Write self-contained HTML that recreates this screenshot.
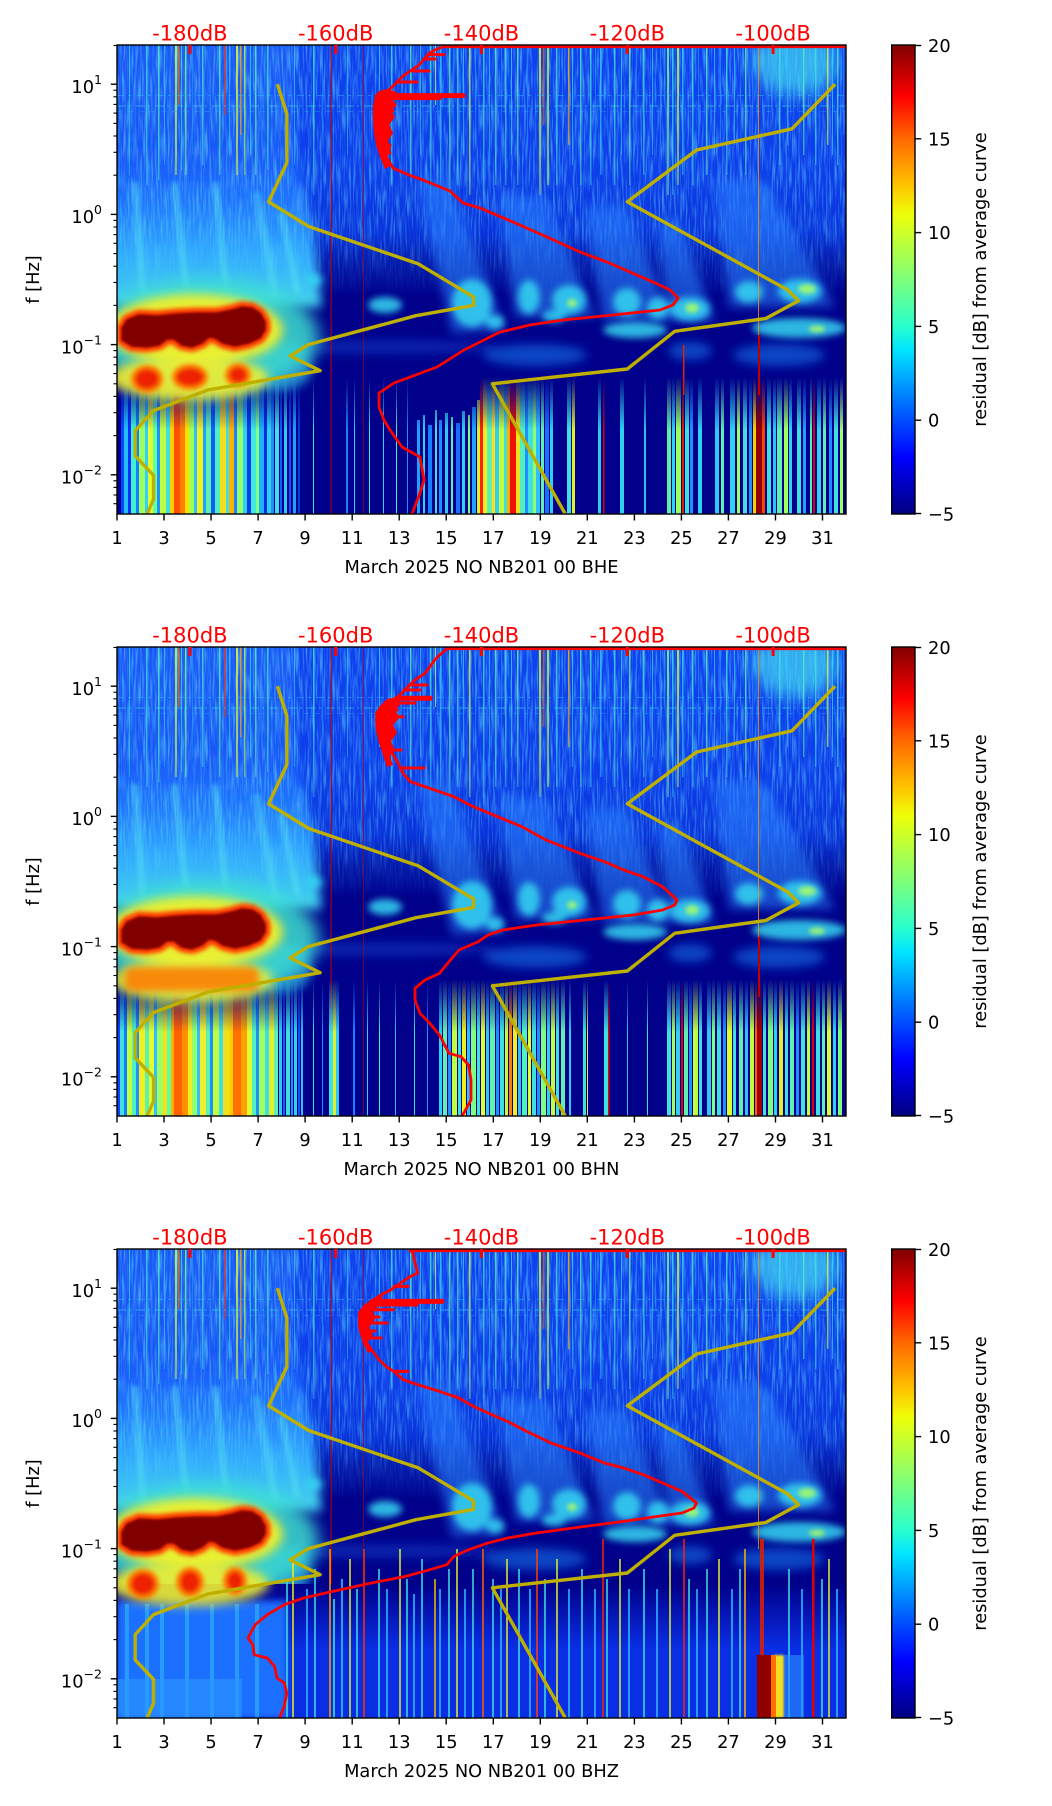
<!DOCTYPE html>
<html><head><meta charset="utf-8"><title>Spectrogram</title>
<style>
html,body{margin:0;padding:0;background:#fff;width:1052px;height:1806px;overflow:hidden}
svg{display:block}
text{font-family:"DejaVu Sans","Liberation Sans",sans-serif}
</style></head><body>
<svg xmlns="http://www.w3.org/2000/svg" xmlns:xlink="http://www.w3.org/1999/xlink" width="1052" height="1806" viewBox="0 0 1052 1806">
<defs>
<filter id="f1" x="-50%" y="-50%" width="200%" height="200%"><feGaussianBlur stdDeviation="1"/></filter>
<filter id="f2" x="-50%" y="-50%" width="200%" height="200%"><feGaussianBlur stdDeviation="2"/></filter>
<filter id="f3" x="-50%" y="-50%" width="200%" height="200%"><feGaussianBlur stdDeviation="3.5"/></filter>
<filter id="f5" x="-50%" y="-50%" width="200%" height="200%"><feGaussianBlur stdDeviation="5"/></filter>
<filter id="f8" x="-50%" y="-50%" width="200%" height="200%"><feGaussianBlur stdDeviation="8"/></filter>
<filter id="nz" x="0" y="0" width="100%" height="100%">
<feTurbulence type="fractalNoise" baseFrequency="0.55 0.035" numOctaves="2" seed="3"/>
<feColorMatrix type="matrix" values="0 0 0 0 0.15  0 0 0 0 0.78  0 0 0 0 1  2.6 0 0 0 -1.12"/>
</filter>

<linearGradient id="jet" x1="0" y1="0" x2="0" y2="1">
<stop offset="0" stop-color="#800000"/><stop offset="0.11" stop-color="#ff0000"/>
<stop offset="0.2" stop-color="#ff6800"/><stop offset="0.3" stop-color="#ffc400"/>
<stop offset="0.36" stop-color="#eeff08"/><stop offset="0.4" stop-color="#cdff29"/>
<stop offset="0.5" stop-color="#7dff7a"/><stop offset="0.6" stop-color="#29ffce"/>
<stop offset="0.65" stop-color="#00e5ff"/><stop offset="0.7" stop-color="#00b2ff"/>
<stop offset="0.8" stop-color="#004cff"/><stop offset="0.88" stop-color="#0000ff"/>
<stop offset="1" stop-color="#000080"/>
</linearGradient>
<linearGradient id="gUp" gradientUnits="userSpaceOnUse" x1="0" y1="0" x2="0" y2="252">
<stop offset="0" stop-color="#0f42ee"/><stop offset="0.5" stop-color="#0d3eea"/>
<stop offset="0.74" stop-color="#0934dc"/><stop offset="0.88" stop-color="#0418a8"/>
<stop offset="1" stop-color="#00008a"/>
</linearGradient>
<linearGradient id="gLeft" gradientUnits="userSpaceOnUse" x1="0" y1="90" x2="0" y2="262">
<stop offset="0" stop-color="#1650ff" stop-opacity="0"/>
<stop offset="0.3" stop-color="#1e70ff" stop-opacity=".85"/>
<stop offset="0.65" stop-color="#2ea4ff"/>
<stop offset="1" stop-color="#44d4ec"/>
</linearGradient>
<linearGradient id="gLow3" gradientUnits="userSpaceOnUse" x1="0" y1="335" x2="0" y2="400">
<stop offset="0" stop-color="#00008a"/><stop offset="1" stop-color="#0a2ee4"/>
</linearGradient>
<linearGradient id="gTopMask" gradientUnits="userSpaceOnUse" x1="0" y1="0" x2="0" y2="210">
<stop offset="0" stop-color="#fff"/><stop offset="0.55" stop-color="#aaa"/><stop offset="1" stop-color="#000"/>
</linearGradient>
<linearGradient id="gNzMask" gradientUnits="userSpaceOnUse" x1="0" y1="0" x2="0" y2="250">
<stop offset="0" stop-color="#fff"/><stop offset="0.7" stop-color="#ddd"/><stop offset="1" stop-color="#000"/>
</linearGradient>
<linearGradient id="gLowMask" gradientUnits="userSpaceOnUse" x1="0" y1="332" x2="0" y2="385">
<stop offset="0" stop-color="#000"/><stop offset="1" stop-color="#fff"/>
</linearGradient>
<mask id="mTop" maskUnits="userSpaceOnUse" x="0" y="0" width="729" height="469"><rect width="729" height="469" fill="url(#gTopMask)"/></mask>
<mask id="mNz" maskUnits="userSpaceOnUse" x="0" y="0" width="729" height="469"><rect width="729" height="469" fill="url(#gNzMask)"/></mask>
<mask id="mLow" maskUnits="userSpaceOnUse" x="0" y="0" width="729" height="469"><rect width="729" height="469" fill="url(#gLowMask)"/></mask>

<path id="blobP" d="M5,283 L10,275 L22,270 L40,271 L60,269 L80,268 L100,268 L115,265 L125,262 L135,263 L143,268 L148,277 L148,285 L143,293 L132,298 L118,301 L106,298 L98,293 L92,292 L85,298 L75,302 L65,300 L57,294 L50,294 L42,300 L30,302 L15,301 L5,295 Z"/>

<g id="topStripes" opacity=".85">
<rect x="12" width="1" height="130" fill="#30d0ff"/><rect x="18" width="1" height="110" fill="#2080ff"/>
<rect x="29" width="1.5" height="140" fill="#40e0e0"/><rect x="35" width="1" height="100" fill="#1a6cff"/>
<rect x="41" width="1.5" height="135" fill="#50f0c0"/><rect x="47" width="1" height="120" fill="#30c0ff"/>
<rect x="58" width="2" height="130" fill="#d0ff40"/><rect x="61" width="1.5" height="60" fill="#ff6000"/>
<rect x="64" width="1" height="125" fill="#40e0e0"/><rect x="68" width="1.5" height="130" fill="#80ff80"/>
<rect x="75" width="1" height="110" fill="#2090ff"/><rect x="85" width="1.5" height="120" fill="#40e0e0"/>
<rect x="92" width="1" height="90" fill="#1a6cff"/><rect x="102" width="1.5" height="130" fill="#50f0c0"/>
<rect x="107" width="1.5" height="70" fill="#ff3000"/><rect x="112" width="1" height="110" fill="#30c0ff"/>
<rect x="119" width="2" height="130" fill="#e0ff30"/><rect x="123" width="1.5" height="90" fill="#ffa000"/>
<rect x="127" width="1.5" height="130" fill="#b0ff50"/><rect x="133" width="1" height="110" fill="#30d0ff"/>
<rect x="138" width="1.5" height="130" fill="#60f0b0"/><rect x="144" width="1" height="100" fill="#2080ff"/>
<rect x="150" width="1.5" height="125" fill="#40e0e0"/><rect x="160" width="1" height="90" fill="#1a6cff"/>
<rect x="177" width="1" height="120" fill="#30c0ff"/><rect x="196" width="1.5" height="150" fill="#40e0e0"/>
<rect x="205" width="1" height="90" fill="#2080ff"/><rect x="230" width="1" height="110" fill="#30c0ff"/>
<rect x="262" width="1" height="100" fill="#30d0ff"/><rect x="274" width="1.5" height="140" fill="#40e0e0"/>
<rect x="284" width="1" height="90" fill="#2080ff"/><rect x="293" width="1.5" height="130" fill="#50f0c0"/>
<rect x="303" width="1" height="110" fill="#30c0ff"/><rect x="313" width="1.5" height="150" fill="#40e0e0"/>
<rect x="318" width="1" height="60" fill="#a0ff60"/><rect x="323" width="1.5" height="140" fill="#30d0ff"/>
<rect x="332" width="1.5" height="150" fill="#60f0b0"/><rect x="336" width="1" height="100" fill="#2080ff"/>
<rect x="340" width="1.5" height="140" fill="#40e0e0"/><rect x="346" width="1" height="110" fill="#30c0ff"/>
<rect x="352" width="1.5" height="150" fill="#d0ff40"/><rect x="358" width="1" height="100" fill="#2090ff"/>
<rect x="366" width="1.5" height="150" fill="#40e0e0"/><rect x="372" width="1" height="120" fill="#30c0ff"/>
<rect x="378" width="1.5" height="140" fill="#50f0c0"/><rect x="384" width="1" height="100" fill="#2080ff"/>
<rect x="388" width="1.5" height="140" fill="#40e0e0"/><rect x="394" width="1" height="110" fill="#30d0ff"/>
<rect x="400" width="1.5" height="140" fill="#60f0b0"/><rect x="410" width="1" height="100" fill="#2090ff"/>
<rect x="422" width="2" height="150" fill="#e0ff30"/><rect x="426" width="1.5" height="80" fill="#ff5000"/>
<rect x="430" width="2" height="140" fill="#c0ff40"/><rect x="439" width="1.5" height="140" fill="#40e0e0"/>
<rect x="445" width="1" height="100" fill="#2080ff"/><rect x="451" width="1.5" height="100" fill="#ffb000"/>
<rect x="455" width="1" height="120" fill="#30d0ff"/><rect x="463" width="1.5" height="140" fill="#50f0c0"/>
<rect x="473" width="1.5" height="140" fill="#40e0e0"/><rect x="478" width="1" height="100" fill="#2090ff"/>
<rect x="483" width="1.5" height="130" fill="#30d0ff"/><rect x="490" width="1" height="90" fill="#1a6cff"/>
<rect x="497" width="1.5" height="140" fill="#40e0e0"/><rect x="504" width="1" height="110" fill="#30c0ff"/>
<rect x="512" width="1.5" height="140" fill="#60f0b0"/><rect x="519" width="1" height="100" fill="#2080ff"/>
<rect x="526" width="1.5" height="130" fill="#40e0e0"/><rect x="535" width="1" height="110" fill="#30c0ff"/>
<rect x="543" width="1" height="100" fill="#2090ff"/><rect x="550" width="2" height="150" fill="#80ff80"/>
<rect x="555" width="1.5" height="150" fill="#40e0e0"/><rect x="560" width="2" height="140" fill="#d0ff40"/>
<rect x="565" width="1.5" height="130" fill="#30d0ff"/><rect x="575" width="1.5" height="140" fill="#40e0e0"/>
<rect x="581" width="1" height="100" fill="#2080ff"/><rect x="589" width="1.5" height="130" fill="#50f0c0"/>
<rect x="597" width="1" height="110" fill="#30c0ff"/><rect x="603" width="1" height="100" fill="#2090ff"/>
<rect x="609" width="1.5" height="130" fill="#40e0e0"/><rect x="617" width="1" height="100" fill="#30c0ff"/>
<rect x="628" width="1.5" height="130" fill="#60f0b0"/><rect x="635" width="1" height="90" fill="#2080ff"/>
<rect x="662" width="1.5" height="120" fill="#40e0e0"/><rect x="670" width="1" height="100" fill="#30c0ff"/>
<rect x="686" width="1.5" height="110" fill="#50f0c0"/><rect x="698" width="1.5" height="120" fill="#40e0e0"/>
<rect x="710" width="1.5" height="100" fill="#d0ff40"/><rect x="715" width="1" height="110" fill="#30d0ff"/>
<rect x="720" width="1.5" height="120" fill="#40e0e0"/><rect x="726" width="1" height="90" fill="#2080ff"/>
</g>

<g id="specCommon">
<rect width="729" height="469" fill="#00008a"/>
<rect width="729" height="252" fill="url(#gUp)"/>
<rect x="0" y="0" width="178" height="150" fill="#2a78ff" opacity=".45" filter="url(#f5)"/>
<path d="M-10,90 L178,90 L195,175 L205,262 L-10,262 Z" fill="url(#gLeft)" filter="url(#f5)"/>
<rect width="729" height="250" filter="url(#nz)" mask="url(#mNz)" opacity=".55"/>
<g stroke="#5ae6f0" stroke-width="7" opacity=".45" filter="url(#f2)" stroke-linecap="round">
<line x1="18" y1="140" x2="26" y2="250"/><line x1="58" y1="140" x2="70" y2="250"/>
<line x1="98" y1="140" x2="110" y2="250"/><line x1="140" y1="150" x2="158" y2="250"/>
<line x1="165" y1="170" x2="180" y2="245"/>
</g>
<ellipse cx="678" cy="18" rx="42" ry="32" fill="#40d0f0" opacity=".75" filter="url(#f8)"/>
<g mask="url(#mTop)"><use href="#topStripes" xlink:href="#topStripes"/></g>
<g stroke-width="1" fill="none">
<line x1="0" y1="50.5" x2="729" y2="50.5" stroke="#30c0ff" opacity=".45" stroke-dasharray="7 4 3 6"/>
<line x1="0" y1="61" x2="729" y2="61" stroke="#40e0e0" opacity=".55" stroke-dasharray="9 3 2 5"/>
<line x1="0" y1="66.5" x2="729" y2="66.5" stroke="#30b0ff" opacity=".35" stroke-dasharray="5 6"/>
</g>
<!-- fingers -->
<g fill="#2a84ff" opacity=".55" filter="url(#f5)">
<polygon points="300,135 332,135 388,285 335,288"/>
<polygon points="382,150 428,150 478,272 398,272"/>
<polygon points="468,160 508,160 555,276 486,276"/>
<polygon points="540,175 562,175 598,276 552,276"/>
<polygon points="598,135 648,135 718,262 612,262"/>
</g>
<g fill="#34d6f2" opacity=".85" filter="url(#f3)">
<ellipse cx="355" cy="258" rx="20" ry="24"/><ellipse cx="268" cy="260" rx="17" ry="8"/>
<ellipse cx="197" cy="235" rx="8" ry="6"/><ellipse cx="412" cy="252" rx="11" ry="17"/>
<ellipse cx="452" cy="255" rx="17" ry="15"/><ellipse cx="437" cy="271" rx="12" ry="6"/>
<ellipse cx="510" cy="257" rx="14" ry="14"/><ellipse cx="541" cy="263" rx="11" ry="11"/>
<ellipse cx="573" cy="264" rx="20" ry="12"/><ellipse cx="632" cy="247" rx="14" ry="11"/>
<ellipse cx="683" cy="246" rx="22" ry="12"/><ellipse cx="518" cy="285" rx="32" ry="8"/>
<ellipse cx="682" cy="283" rx="47" ry="10"/><ellipse cx="378" cy="277" rx="9" ry="7"/>
</g>
<g fill="#b0ff60" opacity=".8" filter="url(#f2)">
<ellipse cx="575" cy="263" rx="7" ry="5"/><ellipse cx="690" cy="244" rx="9" ry="5"/>
<ellipse cx="700" cy="284" rx="8" ry="3.5"/><ellipse cx="455" cy="258" rx="5" ry="4"/>
</g>
<g filter="url(#f5)">
<ellipse cx="418" cy="310" rx="52" ry="11" fill="#1a8cff" opacity=".5"/>
<ellipse cx="573" cy="306" rx="22" ry="9" fill="#1a8cff" opacity=".5"/>
<ellipse cx="662" cy="310" rx="46" ry="11" fill="#1a8cff" opacity=".5"/>
<ellipse cx="260" cy="302" rx="120" ry="7" fill="#1a60f0" opacity=".35"/>
<ellipse cx="165" cy="322" rx="30" ry="24" fill="#30c0f0" opacity=".6"/>
</g>
<!-- red blob complex -->
<ellipse cx="90" cy="292" rx="112" ry="58" fill="#3ee0d0" opacity=".85" filter="url(#f8)"/>
<ellipse cx="78" cy="285" rx="88" ry="36" fill="#e8f030" filter="url(#f5)"/>
<use href="#blobP" xlink:href="#blobP" fill="#ff2a00" stroke="#ff3a00" stroke-width="11" stroke-linejoin="round" filter="url(#f2)"/>
<use href="#blobP" xlink:href="#blobP" fill="#800000" stroke="#8a0000" stroke-width="1.5" filter="url(#f1)"/>
<!-- full height thin lines -->
<rect x="213.5" y="0" width="1.2" height="469" fill="#c00000" opacity=".85"/>
<rect x="246" y="0" width="1" height="469" fill="#b00000" opacity=".6"/>
<rect x="641" y="0" width="1" height="300" fill="#ff9000" opacity=".8"/>
</g>

<g id="nm" fill="none" stroke="#bfb000" stroke-width="3.4" stroke-linejoin="round">
<polyline points="160.4,39.2 169.9,69.2 169.9,117.6 151.6,156.8 191.7,181.5 301.4,218.9 356.5,251.9 356.5,260.4 298.9,270.7 191.3,299.6 173.1,310.9 203.1,325.7 91.1,344.9 36.5,365.6 18.2,385.6 18.2,410.9 36.5,430.3 36.5,454.2 30.2,469"/>
<polyline points="718.1,39.2 675.0,83.8 579.6,105.0 510.3,156.8 670.7,244.9 681.6,255.7 648.8,273.5 557.7,286.3 510.3,324.0 375.4,338.8 448.3,469"/>
</g>

<g id="axes">
<g stroke="#000" stroke-width="1.4">
<line x1="0" y1="469" x2="0" y2="475.5"/><line x1="47.03" y1="469" x2="47.03" y2="475.5"/>
<line x1="94.06" y1="469" x2="94.06" y2="475.5"/><line x1="141.1" y1="469" x2="141.1" y2="475.5"/>
<line x1="188.1" y1="469" x2="188.1" y2="475.5"/><line x1="235.2" y1="469" x2="235.2" y2="475.5"/>
<line x1="282.2" y1="469" x2="282.2" y2="475.5"/><line x1="329.2" y1="469" x2="329.2" y2="475.5"/>
<line x1="376.3" y1="469" x2="376.3" y2="475.5"/><line x1="423.3" y1="469" x2="423.3" y2="475.5"/>
<line x1="470.3" y1="469" x2="470.3" y2="475.5"/><line x1="517.4" y1="469" x2="517.4" y2="475.5"/>
<line x1="564.4" y1="469" x2="564.4" y2="475.5"/><line x1="611.4" y1="469" x2="611.4" y2="475.5"/>
<line x1="658.5" y1="469" x2="658.5" y2="475.5"/><line x1="705.5" y1="469" x2="705.5" y2="475.5"/>
<line x1="-6.2" y1="39.2" x2="0" y2="39.2"/><line x1="-6.2" y1="169.4" x2="0" y2="169.4"/>
<line x1="-6.2" y1="299.6" x2="0" y2="299.6"/><line x1="-6.2" y1="429.8" x2="0" y2="429.8"/>
</g>
<g stroke="#000" stroke-width="1.1">
<line x1="-3.6" y1="458.7" x2="0" y2="458.7"/><line x1="-3.6" y1="450" x2="0" y2="450"/>
<line x1="-3.6" y1="442.4" x2="0" y2="442.4"/><line x1="-3.6" y1="435.8" x2="0" y2="435.8"/>
<line x1="-3.6" y1="390.6" x2="0" y2="390.6"/><line x1="-3.6" y1="367.7" x2="0" y2="367.7"/>
<line x1="-3.6" y1="351.4" x2="0" y2="351.4"/><line x1="-3.6" y1="338.8" x2="0" y2="338.8"/>
<line x1="-3.6" y1="328.5" x2="0" y2="328.5"/><line x1="-3.6" y1="319.8" x2="0" y2="319.8"/>
<line x1="-3.6" y1="312.2" x2="0" y2="312.2"/><line x1="-3.6" y1="305.6" x2="0" y2="305.6"/>
<line x1="-3.6" y1="260.4" x2="0" y2="260.4"/><line x1="-3.6" y1="237.5" x2="0" y2="237.5"/>
<line x1="-3.6" y1="221.2" x2="0" y2="221.2"/><line x1="-3.6" y1="208.6" x2="0" y2="208.6"/>
<line x1="-3.6" y1="198.3" x2="0" y2="198.3"/><line x1="-3.6" y1="189.6" x2="0" y2="189.6"/>
<line x1="-3.6" y1="182" x2="0" y2="182"/><line x1="-3.6" y1="175.4" x2="0" y2="175.4"/>
<line x1="-3.6" y1="130.2" x2="0" y2="130.2"/><line x1="-3.6" y1="107.3" x2="0" y2="107.3"/>
<line x1="-3.6" y1="91" x2="0" y2="91"/><line x1="-3.6" y1="78.4" x2="0" y2="78.4"/>
<line x1="-3.6" y1="68.1" x2="0" y2="68.1"/><line x1="-3.6" y1="59.4" x2="0" y2="59.4"/>
<line x1="-3.6" y1="51.8" x2="0" y2="51.8"/><line x1="-3.6" y1="45.2" x2="0" y2="45.2"/>
<line x1="-3.6" y1="0.5" x2="0" y2="0.5"/>
</g>
<rect x="0" y="0" width="729" height="469" fill="none" stroke="#000" stroke-width="1.4"/>
<g font-size="17.8" fill="#000" text-anchor="middle">
<text x="0" y="499">1</text><text x="47.03" y="499">3</text><text x="94.06" y="499">5</text>
<text x="141.1" y="499">7</text><text x="188.1" y="499">9</text><text x="235.2" y="499">11</text>
<text x="282.2" y="499">13</text><text x="329.2" y="499">15</text><text x="376.3" y="499">17</text>
<text x="423.3" y="499">19</text><text x="470.3" y="499">21</text><text x="517.4" y="499">23</text>
<text x="564.4" y="499">25</text><text x="611.4" y="499">27</text><text x="658.5" y="499">29</text>
<text x="705.5" y="499">31</text>
</g>
<g font-size="17.8" fill="#000" text-anchor="end">
<text x="-15" y="47.9">10<tspan dy="-9" font-size="12.5">1</tspan></text>
<text x="-15" y="178.1">10<tspan dy="-9" font-size="12.5">0</tspan></text>
<text x="-15" y="308.3">10<tspan dy="-9" font-size="12.5">−1</tspan></text>
<text x="-15" y="438.5">10<tspan dy="-9" font-size="12.5">−2</tspan></text>
</g>
<text font-size="17.8" fill="#000" text-anchor="middle" transform="translate(-84,234.5) rotate(-90)" dy="6">f [Hz]</text>
<g fill="#ff0000">
<rect x="71.4" y="0" width="3" height="9"/><rect x="217.2" y="0" width="3" height="9"/>
<rect x="363" y="0" width="3" height="9"/><rect x="508.8" y="0" width="3" height="9"/>
<rect x="654.6" y="0" width="3" height="9"/>
</g>
<g font-size="21" fill="#ff0000" text-anchor="middle">
<text x="72.9" y="-4.3">-180dB</text><text x="218.7" y="-4.3">-160dB</text>
<text x="364.5" y="-4.3">-140dB</text><text x="510.3" y="-4.3">-120dB</text>
<text x="656.1" y="-4.3">-100dB</text>
</g>
<rect x="774.7" y="0" width="23.3" height="469" fill="url(#jet)" stroke="#000" stroke-width="1.4"/>
<g stroke="#000" stroke-width="1.4">
<line x1="798" y1="0.5" x2="804.2" y2="0.5"/><line x1="798" y1="93.8" x2="804.2" y2="93.8"/>
<line x1="798" y1="187.6" x2="804.2" y2="187.6"/><line x1="798" y1="281.4" x2="804.2" y2="281.4"/>
<line x1="798" y1="375.2" x2="804.2" y2="375.2"/><line x1="798" y1="468.5" x2="804.2" y2="468.5"/>
</g>
<g font-size="17.8" fill="#000">
<text x="811" y="6.9">20</text><text x="811" y="100.3">15</text><text x="811" y="194.1">10</text>
<text x="811" y="287.9">5</text><text x="811" y="381.7">0</text><text x="811" y="475.5">−5</text>
</g>
<text font-size="17.8" fill="#000" text-anchor="middle" transform="translate(863,234.5) rotate(-90)" dy="6">residual [dB] from average curve</text>
</g>
</defs>

<rect width="1052" height="1806" fill="#fff"/>

<!-- ================= PANEL 1 ================= -->
<svg x="117" y="45" width="729" height="469" viewBox="0 0 729 469" overflow="hidden">
<use href="#specCommon" xlink:href="#specCommon"/>
<g mask="url(#mLow)">
<rect x="5" y="340" width="145" height="129" fill="#60e0b0"/>
<g>
<rect x="0" y="330" width="4" height="139" fill="#000090"/><rect x="4" y="330" width="3" height="139" fill="#1040ff"/>
<rect x="7" y="330" width="4" height="139" fill="#20c0ff"/><rect x="11" y="330" width="3" height="139" fill="#0030ff"/>
<rect x="14" y="330" width="5" height="139" fill="#40f0d0"/><rect x="19" y="330" width="3" height="139" fill="#1080ff"/>
<rect x="22" y="330" width="6" height="139" fill="#a0ff60"/><rect x="28" y="330" width="3" height="139" fill="#30d0ff"/>
<rect x="31" y="330" width="5" height="139" fill="#e0ff30"/><rect x="36" y="330" width="4" height="139" fill="#60ffa0"/>
<rect x="40" y="330" width="3" height="139" fill="#2090ff"/><rect x="43" y="330" width="6" height="139" fill="#c0ff40"/>
<rect x="49" y="330" width="4" height="139" fill="#40e0e0"/><rect x="53" y="330" width="4" height="139" fill="#ffd000"/>
<rect x="57" y="330" width="6" height="139" fill="#ff5000"/><rect x="63" y="330" width="5" height="139" fill="#ff8000"/>
<rect x="68" y="330" width="4" height="139" fill="#ffe000"/><rect x="72" y="330" width="5" height="139" fill="#a0ff50"/>
<rect x="77" y="330" width="3" height="139" fill="#30c0ff"/><rect x="80" y="330" width="6" height="139" fill="#f0f020"/>
<rect x="86" y="330" width="3" height="139" fill="#20a0ff"/><rect x="89" y="330" width="5" height="139" fill="#60f0b0"/>
<rect x="94" y="330" width="4" height="139" fill="#1060ff"/><rect x="98" y="330" width="5" height="139" fill="#50f0c0"/>
<rect x="103" y="330" width="6" height="139" fill="#f0e020"/><rect x="109" y="330" width="3" height="139" fill="#40e0e0"/>
<rect x="112" y="330" width="5" height="139" fill="#ffb000"/><rect x="117" y="330" width="3" height="139" fill="#2080ff"/>
<rect x="120" y="330" width="6" height="139" fill="#90ff70"/><rect x="126" y="330" width="4" height="139" fill="#30d0f0"/>
<rect x="130" y="330" width="4" height="139" fill="#0040f0"/><rect x="134" y="330" width="5" height="139" fill="#40e8e0"/>
<rect x="139" y="330" width="3" height="139" fill="#80ff80"/><rect x="142" y="330" width="5" height="139" fill="#20b0ff"/>
<rect x="147" y="330" width="3" height="139" fill="#0030e0"/><rect x="150" y="330" width="4" height="139" fill="#30d0f0"/>
<rect x="154" y="330" width="3" height="139" fill="#2090ff"/><rect x="158" y="330" width="4" height="139" fill="#40e0e0"/>
<rect x="163" y="330" width="2" height="139" fill="#1060ff"/><rect x="167" y="330" width="3" height="139" fill="#30c8f0"/>
<rect x="172" y="330" width="2" height="139" fill="#1050ff"/><rect x="176" y="330" width="3" height="139" fill="#20a0ff"/>
<rect x="181" y="330" width="2" height="139" fill="#0040e0"/>
<rect x="196" y="330" width="1" height="139" fill="#40e0e0"/><rect x="229" y="330" width="2" height="139" fill="#2080ff"/>
<rect x="237" y="330" width="1" height="139" fill="#30d0ff"/><rect x="252" y="330" width="1" height="139" fill="#40f0d0"/>
<rect x="266" y="330" width="1" height="139" fill="#30d0ff"/><rect x="279" y="330" width="1" height="139" fill="#40f0d0"/>
<rect x="290" y="330" width="1" height="139" fill="#2090ff"/>
</g>
<g>
<rect x="300" y="375" width="3" height="94" fill="#20a0ff"/><rect x="306" y="370" width="2" height="99" fill="#30d0f0"/>
<rect x="311" y="380" width="4" height="89" fill="#1880ff"/><rect x="318" y="365" width="2" height="104" fill="#40e0e0"/>
<rect x="322" y="375" width="3" height="94" fill="#2090ff"/><rect x="328" y="368" width="3" height="101" fill="#30c8f0"/>
<rect x="334" y="372" width="2" height="97" fill="#60f0b0"/><rect x="339" y="378" width="4" height="91" fill="#1870ff"/>
<rect x="345" y="366" width="3" height="103" fill="#30d0f0"/><rect x="351" y="370" width="2" height="99" fill="#80ff80"/>
<rect x="355" y="362" width="4" height="107" fill="#20a0ff"/><rect x="360" y="355" width="3" height="114" fill="#e0f030"/>
</g>
<g>
<rect x="363" y="330" width="3" height="139" fill="#ff2000"/><rect x="366" y="330" width="4" height="139" fill="#f0f020"/>
<rect x="370" y="330" width="5" height="139" fill="#60f0b0"/><rect x="375" y="330" width="3" height="139" fill="#ffe020"/>
<rect x="378" y="330" width="4" height="139" fill="#30d0f0"/><rect x="382" y="330" width="5" height="139" fill="#c0ff40"/>
<rect x="387" y="330" width="3" height="139" fill="#40e0e0"/><rect x="390" y="330" width="3" height="139" fill="#ffb000"/>
<rect x="393" y="330" width="6" height="139" fill="#ee1000"/><rect x="399" y="330" width="4" height="139" fill="#f0e020"/>
<rect x="403" y="330" width="5" height="139" fill="#50f0c0"/><rect x="408" y="330" width="3" height="139" fill="#2090ff"/>
<rect x="411" y="330" width="5" height="139" fill="#40e0e0"/><rect x="416" y="330" width="3" height="139" fill="#90ff70"/>
<rect x="419" y="330" width="4" height="139" fill="#30c0ff"/><rect x="424" y="330" width="3" height="139" fill="#60f0b0"/>
<rect x="428" y="330" width="4" height="139" fill="#1870ff"/><rect x="433" y="330" width="3" height="139" fill="#30d0f0"/>
<rect x="450" y="330" width="4" height="139" fill="#40e0e0"/><rect x="455" y="330" width="3" height="139" fill="#e0f030"/>
<rect x="481" y="330" width="3" height="139" fill="#30c8f0"/><rect x="486" y="330" width="1.5" height="139" fill="#e00000"/>
<rect x="503" y="330" width="4" height="139" fill="#30d0f0"/><rect x="527" y="330" width="2" height="139" fill="#30c0f0"/>
<rect x="550" y="330" width="4" height="139" fill="#60f0a0"/><rect x="555" y="330" width="3" height="139" fill="#30d0f0"/>
<rect x="559" y="330" width="5" height="139" fill="#a0ff60"/><rect x="565" y="330" width="2" height="139" fill="#e02000"/>
<rect x="568" y="330" width="4" height="139" fill="#40e0e0"/><rect x="573" y="330" width="3" height="139" fill="#2090ff"/>
<rect x="581" y="330" width="4" height="139" fill="#30d0f0"/><rect x="598" y="330" width="4" height="139" fill="#30c8f0"/>
<rect x="604" y="330" width="3" height="139" fill="#60f0b0"/><rect x="613" y="330" width="5" height="139" fill="#30d0f0"/>
<rect x="620" y="330" width="3" height="139" fill="#a0ff60"/><rect x="626" y="330" width="4" height="139" fill="#40e0e0"/>
<rect x="632" y="330" width="3" height="139" fill="#2090ff"/><rect x="636" y="330" width="3" height="139" fill="#ffd000"/>
<rect x="639" y="300" width="6" height="169" fill="#900000"/><rect x="645" y="330" width="3" height="139" fill="#ff4000"/>
<rect x="650" y="330" width="4" height="139" fill="#40e0e0"/><rect x="656" y="330" width="3" height="139" fill="#30c0ff"/>
<rect x="660" y="330" width="5" height="139" fill="#60f0b0"/><rect x="667" y="330" width="4" height="139" fill="#a0ff60"/>
<rect x="672" y="330" width="3" height="139" fill="#30d0f0"/><rect x="680" y="330" width="4" height="139" fill="#40e0e0"/>
<rect x="686" y="330" width="3" height="139" fill="#20a0ff"/><rect x="693" y="330" width="2" height="139" fill="#50f0c0"/>
<rect x="696" y="330" width="2" height="139" fill="#e00000"/><rect x="700" y="330" width="4" height="139" fill="#30d0f0"/>
<rect x="706" y="330" width="3" height="139" fill="#60f0b0"/><rect x="712" y="330" width="3" height="139" fill="#2090ff"/>
<rect x="717" y="330" width="4" height="139" fill="#40e0e0"/><rect x="723" y="330" width="3" height="139" fill="#a0ff60"/>
</g>
</g>
<rect x="641" y="290" width="2" height="60" fill="#c00000"/>
<rect x="566" y="300" width="1.5" height="50" fill="#e02000"/>
<ellipse cx="72" cy="333" rx="80" ry="22" fill="#f0f030" opacity=".9" filter="url(#f5)"/>
<g fill="#ee2000" stroke="#ff8000" stroke-width="4" filter="url(#f2)">
<ellipse cx="30" cy="334" rx="14" ry="12"/><ellipse cx="73" cy="332" rx="16" ry="11"/><ellipse cx="121" cy="330" rx="11" ry="10"/>
</g>
<use href="#nm" xlink:href="#nm"/>
<g fill="none" stroke="#ff0000" stroke-linejoin="round" stroke-linecap="round">
<polyline stroke-width="2.8" points="326,1.7 729,1.7"/>
<polyline stroke-width="2.8" points="326,1.7 318,5 312,8.4 302,20 286,31 272,45 262,58 259,70 262,89 267,108 276,123 292,130 306,135 333,146 346,158 363,163 396,177 430,192 463,207 490,217 513,227 536,237 553,245 561,253 556,260 543,265 496,270 446,275 413,280 383,287 363,297 347,305 320,322 277,338 262,348 262,362 267,375 273,385 285,402 303,412 307,435 303,448 295,469"/>
<g stroke-width="3">
<line x1="311" y1="9.6" x2="327" y2="9.6"/><line x1="307" y1="14" x2="318" y2="14"/>
<line x1="296" y1="26" x2="312" y2="26"/><line x1="281" y1="37" x2="300" y2="37"/>
<line x1="264" y1="53.6" x2="323" y2="53.6"/><line x1="259" y1="66" x2="276" y2="66"/>
<line x1="259" y1="77" x2="270" y2="77"/><line x1="261" y1="89" x2="271" y2="89"/>
<line x1="265" y1="100" x2="273" y2="100"/><line x1="267" y1="108" x2="273" y2="108"/>
<line x1="262" y1="82" x2="272" y2="82"/><line x1="260" y1="60" x2="274" y2="60"/>
</g>
<line stroke-width="5" x1="266" y1="50.6" x2="346" y2="50.6"/>
</g>
<polygon fill="#ff0000" points="258,50 262,46 270,44 280,47 276,55 280,60 274,66 278,72 272,80 276,88 271,96 274,104 270,112 275,120 268,124 263,112 259,100 257,88 256,75 256,62"/>
</svg>
<use href="#axes" xlink:href="#axes" transform="translate(117,45)"/>
<text x="481.5" y="573" font-size="17.8" text-anchor="middle" fill="#000">March 2025 NO NB201 00 BHE</text>

<!-- ================= PANEL 2 ================= -->
<svg x="117" y="647" width="729" height="469" viewBox="0 0 729 469" overflow="hidden">
<use href="#specCommon" xlink:href="#specCommon"/>
<g mask="url(#mLow)">
<rect x="5" y="340" width="155" height="129" fill="#90f080"/>
<g>
<rect x="0" y="330" width="3" height="139" fill="#1040ff"/><rect x="3" y="330" width="4" height="139" fill="#40e0e0"/>
<rect x="7" y="330" width="3" height="139" fill="#1080ff"/><rect x="10" y="330" width="5" height="139" fill="#c0ff40"/>
<rect x="15" y="330" width="4" height="139" fill="#50f0c0"/><rect x="19" y="330" width="3" height="139" fill="#2090ff"/>
<rect x="22" y="330" width="6" height="139" fill="#f0f020"/><rect x="28" y="330" width="4" height="139" fill="#60f0b0"/>
<rect x="32" y="330" width="5" height="139" fill="#e0ff30"/><rect x="37" y="330" width="3" height="139" fill="#30c0ff"/>
<rect x="40" y="330" width="6" height="139" fill="#a0ff60"/><rect x="46" y="330" width="4" height="139" fill="#f0e020"/>
<rect x="50" y="330" width="4" height="139" fill="#60ffa0"/><rect x="54" y="330" width="3" height="139" fill="#ffb000"/>
<rect x="57" y="330" width="8" height="139" fill="#ff6000"/><rect x="65" y="330" width="6" height="139" fill="#ff9000"/>
<rect x="71" y="330" width="4" height="139" fill="#f0f020"/><rect x="75" y="330" width="5" height="139" fill="#90ff70"/>
<rect x="80" y="330" width="3" height="139" fill="#30c0ff"/><rect x="83" y="330" width="6" height="139" fill="#f0f030"/>
<rect x="89" y="330" width="4" height="139" fill="#60f0b0"/><rect x="93" y="330" width="3" height="139" fill="#2090ff"/>
<rect x="96" y="330" width="6" height="139" fill="#c0ff40"/><rect x="102" y="330" width="4" height="139" fill="#40e0e0"/>
<rect x="106" y="330" width="6" height="139" fill="#f0e020"/><rect x="112" y="330" width="4" height="139" fill="#ffd000"/>
<rect x="116" y="330" width="8" height="139" fill="#ff7000"/><rect x="124" y="330" width="6" height="139" fill="#ffa000"/>
<rect x="130" y="330" width="5" height="139" fill="#e0ff30"/><rect x="135" y="330" width="4" height="139" fill="#50f0c0"/>
<rect x="139" y="330" width="3" height="139" fill="#2090ff"/><rect x="142" y="330" width="6" height="139" fill="#a0ff60"/>
<rect x="148" y="330" width="4" height="139" fill="#40e0e0"/><rect x="152" y="330" width="5" height="139" fill="#e0f030"/>
<rect x="157" y="330" width="4" height="139" fill="#60f0b0"/><rect x="162" y="330" width="3" height="139" fill="#30c8f0"/>
<rect x="166" y="330" width="2" height="139" fill="#1060ff"/><rect x="169" y="330" width="4" height="139" fill="#40e0e0"/>
<rect x="174" y="330" width="2" height="139" fill="#2090ff"/><rect x="177" y="330" width="3" height="139" fill="#30d0f0"/>
<rect x="181" y="330" width="2" height="139" fill="#1050ff"/><rect x="184" y="330" width="2" height="139" fill="#30c0f0"/>
<rect x="196" y="330" width="1" height="139" fill="#40e0e0"/><rect x="205" y="330" width="1" height="139" fill="#2090ff"/>
<rect x="212" y="330" width="4" height="139" fill="#40e0e0"/><rect x="216" y="330" width="3" height="139" fill="#e0f030"/>
<rect x="219" y="330" width="3" height="139" fill="#30c8f0"/><rect x="236" y="330" width="2" height="139" fill="#2080ff"/>
<rect x="250" y="330" width="1" height="139" fill="#30d0ff"/><rect x="262" y="330" width="1" height="139" fill="#40f0d0"/>
<rect x="278" y="330" width="1" height="139" fill="#30c0ff"/><rect x="297" y="330" width="1" height="139" fill="#40e0e0"/>
<rect x="310" y="330" width="1" height="139" fill="#2090ff"/>
<rect x="322" y="330" width="3" height="139" fill="#30d0f0"/><rect x="326" y="330" width="4" height="139" fill="#60f0b0"/>
<rect x="331" y="330" width="3" height="139" fill="#2090ff"/><rect x="335" y="330" width="5" height="139" fill="#c0ff40"/>
<rect x="341" y="330" width="3" height="139" fill="#40e0e0"/><rect x="345" y="330" width="4" height="139" fill="#f0f020"/>
<rect x="350" y="330" width="3" height="139" fill="#30c0ff"/><rect x="354" y="330" width="5" height="139" fill="#80ff80"/>
<rect x="360" y="330" width="3" height="139" fill="#40e0e0"/><rect x="364" y="330" width="4" height="139" fill="#e0ff30"/>
<rect x="369" y="330" width="3" height="139" fill="#30c8f0"/><rect x="373" y="330" width="5" height="139" fill="#60f0b0"/>
<rect x="379" y="330" width="3" height="139" fill="#2090ff"/><rect x="383" y="330" width="4" height="139" fill="#40e0e0"/>
<rect x="388" y="330" width="3" height="139" fill="#c0ff40"/><rect x="392" y="330" width="3" height="139" fill="#ff8000"/>
<rect x="396" y="330" width="4" height="139" fill="#f0f020"/><rect x="401" y="330" width="3" height="139" fill="#30c0ff"/>
<rect x="405" y="330" width="5" height="139" fill="#50f0c0"/><rect x="411" y="330" width="3" height="139" fill="#e0ff30"/>
<rect x="415" y="330" width="4" height="139" fill="#40e0e0"/><rect x="420" y="330" width="3" height="139" fill="#2090ff"/>
<rect x="424" y="330" width="5" height="139" fill="#80ff80"/><rect x="430" y="330" width="3" height="139" fill="#30d0f0"/>
<rect x="434" y="330" width="4" height="139" fill="#c0ff40"/><rect x="439" y="330" width="3" height="139" fill="#40e0e0"/>
<rect x="444" y="330" width="4" height="139" fill="#60f0b0"/>
<rect x="452" y="330" width="2" height="139" fill="#30c8f0"/><rect x="466" y="330" width="3" height="139" fill="#40e0e0"/>
<rect x="470" y="330" width="1" height="139" fill="#e0f030"/><rect x="487" y="330" width="4" height="139" fill="#40e0e0"/>
<rect x="491" y="330" width="1.5" height="139" fill="#e00000"/><rect x="510" y="330" width="1" height="139" fill="#30c0ff"/>
<rect x="530" y="330" width="1" height="139" fill="#40e0e0"/>
<rect x="550" y="330" width="4" height="139" fill="#40e0e0"/><rect x="555" y="330" width="3" height="139" fill="#a0ff60"/>
<rect x="559" y="330" width="4" height="139" fill="#30d0f0"/><rect x="564" y="330" width="2" height="139" fill="#e00000"/>
<rect x="567" y="330" width="4" height="139" fill="#60f0b0"/><rect x="572" y="330" width="3" height="139" fill="#2090ff"/>
<rect x="576" y="330" width="5" height="139" fill="#c0ff40"/><rect x="582" y="330" width="3" height="139" fill="#40e0e0"/>
<rect x="590" y="330" width="4" height="139" fill="#30c8f0"/><rect x="595" y="330" width="3" height="139" fill="#80ff80"/>
<rect x="600" y="330" width="4" height="139" fill="#40e0e0"/><rect x="606" y="330" width="3" height="139" fill="#2090ff"/>
<rect x="610" y="330" width="5" height="139" fill="#e0ff30"/><rect x="616" y="330" width="3" height="139" fill="#40e0e0"/>
<rect x="622" y="330" width="4" height="139" fill="#60f0b0"/><rect x="628" y="330" width="3" height="139" fill="#30c0ff"/>
<rect x="633" y="330" width="4" height="139" fill="#c0ff40"/><rect x="638" y="330" width="2" height="139" fill="#ff6000"/>
<rect x="640" y="300" width="5" height="169" fill="#a00000"/><rect x="646" y="330" width="3" height="139" fill="#40e0e0"/>
<rect x="651" y="330" width="5" height="139" fill="#80ff80"/><rect x="657" y="330" width="3" height="139" fill="#30d0f0"/>
<rect x="662" y="330" width="4" height="139" fill="#e0f030"/><rect x="668" y="330" width="3" height="139" fill="#40e0e0"/>
<rect x="673" y="330" width="4" height="139" fill="#60f0b0"/><rect x="679" y="330" width="3" height="139" fill="#2090ff"/>
<rect x="684" y="330" width="4" height="139" fill="#40e0e0"/><rect x="690" y="330" width="3" height="139" fill="#c0ff40"/>
<rect x="695" y="330" width="2" height="139" fill="#e00000"/><rect x="699" y="330" width="4" height="139" fill="#40e0e0"/>
<rect x="705" y="330" width="3" height="139" fill="#60f0b0"/><rect x="710" y="330" width="4" height="139" fill="#e0ff30"/>
<rect x="716" y="330" width="3" height="139" fill="#30d0f0"/><rect x="721" y="330" width="4" height="139" fill="#80ff80"/>
</g>
</g>
<rect x="641" y="290" width="2" height="60" fill="#c00000"/>
<ellipse cx="75" cy="333" rx="82" ry="22" fill="#f0f030" opacity=".85" filter="url(#f5)"/>
<rect x="8" y="320" width="134" height="24" rx="8" fill="#ff7a00" opacity=".85" filter="url(#f3)"/>
<use href="#nm" xlink:href="#nm"/>
<g fill="none" stroke="#ff0000" stroke-linejoin="round" stroke-linecap="round">
<polyline stroke-width="2.8" points="330,1.7 729,1.7"/>
<polyline stroke-width="2.8" points="330,1.7 322.5,8 317.6,13 312.8,19.7 308,26.3 298,33 291,39.7 281,49.7 271.6,56.3 264.3,59.7 259.5,66.3 260.4,79.7 264.3,89.7 271.6,99.7 276.4,108 281.3,116.3 286,126.3 293.4,134.7 317.6,143 337,149.7 356.4,159.7 380.7,169.7 405,179.7 429,193 463,206.3 487.4,214.7 506.8,223 526,229.7 545.6,239.7 560,253 557.7,258 545.6,263 516.5,268 468,273 419.5,278 385.5,283 371,288 361.3,294.7 342,303 332,314.7 322.5,326.3 308,333 298,341.3 298,353 303,366.3 312.8,376.3 322.5,388 332,406.3 344,409.7 351.6,418 354,433 354,453 346.7,466.3 344.3,469"/>
<g stroke-width="3">
<line x1="292" y1="38" x2="310" y2="38"/><line x1="287" y1="43" x2="303" y2="43"/>
<line x1="272" y1="56" x2="298" y2="56"/><line x1="260" y1="69.7" x2="286" y2="69.7"/>
<line x1="261" y1="83" x2="276" y2="83"/><line x1="273" y1="103" x2="284" y2="103"/>
<line x1="283" y1="121" x2="307" y2="121"/><line x1="262" y1="63" x2="280" y2="63"/>
<line x1="263" y1="92" x2="274" y2="92"/>
</g>
<line stroke-width="5" x1="280" y1="51.3" x2="313" y2="51.3"/>
</g>
<polygon fill="#ff0000" points="262,60 270,52 280,50 284,56 278,64 283,70 276,78 280,86 274,94 277,102 273,110 276,118 270,120 266,108 262,96 259,84 258,72"/>
</svg>
<use href="#axes" xlink:href="#axes" transform="translate(117,647)"/>
<text x="481.5" y="1175" font-size="17.8" text-anchor="middle" fill="#000">March 2025 NO NB201 00 BHN</text>

<!-- ================= PANEL 3 ================= -->
<svg x="117" y="1249" width="729" height="469" viewBox="0 0 729 469" overflow="hidden">
<use href="#specCommon" xlink:href="#specCommon"/>
<rect x="0" y="335" width="729" height="134" fill="url(#gLow3)"/>
<rect x="0" y="352" width="170" height="117" fill="#1a70ff" filter="url(#f3)"/>
<g stroke="#30b8ff" stroke-width="4" opacity=".6">
<line x1="10" y1="355" x2="10" y2="469"/><line x1="30" y1="355" x2="30" y2="469"/>
<line x1="45" y1="355" x2="45" y2="469"/><line x1="70" y1="355" x2="70" y2="469"/>
<line x1="95" y1="355" x2="95" y2="469"/><line x1="120" y1="355" x2="120" y2="469"/>
<line x1="140" y1="355" x2="140" y2="469"/>
</g>
<rect x="0" y="430" width="125" height="39" fill="#2c98ff" opacity=".6"/>
<g stroke-width="1.5">
<line x1="170" y1="330" x2="170" y2="469" stroke="#40e0e0"/><line x1="176" y1="310" x2="176" y2="469" stroke="#f0f020"/>
<line x1="190" y1="340" x2="190" y2="469" stroke="#30c0ff"/><line x1="198" y1="320" x2="198" y2="469" stroke="#40e0e0"/>
<line x1="213" y1="300" x2="213" y2="469" stroke="#ffa000"/><line x1="217" y1="350" x2="217" y2="469" stroke="#40f0d0"/>
<line x1="225" y1="330" x2="225" y2="469" stroke="#30d0ff"/><line x1="233" y1="310" x2="233" y2="469" stroke="#e0f030"/>
<line x1="240" y1="340" x2="240" y2="469" stroke="#40e0e0"/><line x1="247" y1="300" x2="247" y2="469" stroke="#ff3000"/>
<line x1="262" y1="320" x2="262" y2="469" stroke="#40e0e0"/><line x1="270" y1="340" x2="270" y2="469" stroke="#30c0ff"/>
<line x1="283" y1="300" x2="283" y2="469" stroke="#e0f030"/><line x1="290" y1="330" x2="290" y2="469" stroke="#40e0e0"/>
<line x1="297" y1="345" x2="297" y2="469" stroke="#30c0ff"/><line x1="305" y1="310" x2="305" y2="469" stroke="#40e0e0"/>
<line x1="318" y1="330" x2="318" y2="469" stroke="#f0c000"/><line x1="323" y1="340" x2="323" y2="469" stroke="#30c0ff"/>
<line x1="332" y1="320" x2="332" y2="469" stroke="#40e0e0"/><line x1="340" y1="300" x2="340" y2="469" stroke="#e0f030"/>
<line x1="348" y1="340" x2="348" y2="469" stroke="#30c0ff"/><line x1="356" y1="320" x2="356" y2="469" stroke="#40e0e0"/>
<line x1="366" y1="300" x2="366" y2="469" stroke="#ff6000"/><line x1="376" y1="330" x2="376" y2="469" stroke="#40e0e0"/>
<line x1="384" y1="340" x2="384" y2="469" stroke="#30c0ff"/><line x1="390" y1="310" x2="390" y2="469" stroke="#e0f030"/>
<line x1="402" y1="320" x2="402" y2="469" stroke="#40e0e0"/><line x1="413" y1="340" x2="413" y2="469" stroke="#30c0ff"/>
<line x1="420" y1="300" x2="420" y2="469" stroke="#ff4000"/><line x1="428" y1="330" x2="428" y2="469" stroke="#40e0e0"/>
<line x1="440" y1="310" x2="440" y2="469" stroke="#e0f030"/><line x1="452" y1="340" x2="452" y2="469" stroke="#30c0ff"/>
<line x1="465" y1="320" x2="465" y2="469" stroke="#40e0e0"/><line x1="478" y1="340" x2="478" y2="469" stroke="#30c0ff"/>
<line x1="486" y1="290" x2="486" y2="469" stroke="#ff2000"/><line x1="490" y1="330" x2="490" y2="469" stroke="#40e0e0"/>
<line x1="503" y1="310" x2="503" y2="469" stroke="#e0f030"/><line x1="512" y1="340" x2="512" y2="469" stroke="#30c0ff"/>
<line x1="527" y1="320" x2="527" y2="469" stroke="#40e0e0"/><line x1="540" y1="340" x2="540" y2="469" stroke="#30c0ff"/>
<line x1="553" y1="300" x2="553" y2="469" stroke="#e0f030"/><line x1="567" y1="290" x2="567" y2="469" stroke="#ff2000"/>
<line x1="572" y1="330" x2="572" y2="469" stroke="#40e0e0"/><line x1="580" y1="340" x2="580" y2="469" stroke="#30c0ff"/>
<line x1="590" y1="320" x2="590" y2="469" stroke="#40e0e0"/><line x1="602" y1="310" x2="602" y2="469" stroke="#e0f030"/>
<line x1="615" y1="340" x2="615" y2="469" stroke="#30c0ff"/><line x1="623" y1="320" x2="623" y2="469" stroke="#40e0e0"/>
<line x1="628" y1="300" x2="628" y2="469" stroke="#ffb000"/><line x1="672" y1="320" x2="672" y2="469" stroke="#40e0e0"/>
<line x1="685" y1="340" x2="685" y2="469" stroke="#30c0ff"/><line x1="705" y1="330" x2="705" y2="469" stroke="#40e0e0"/>
<line x1="712" y1="310" x2="712" y2="469" stroke="#e0f030"/><line x1="720" y1="340" x2="720" y2="469" stroke="#30c0ff"/>
</g>
<rect x="643" y="290" width="4" height="116" fill="#e02000" opacity=".85"/>
<rect x="657" y="406" width="10" height="63" fill="#f0e020" filter="url(#f1)"/>
<rect x="652" y="406" width="7" height="63" fill="#ff7000"/>
<rect x="640" y="406" width="14" height="63" fill="#900000"/>
<rect x="667" y="406" width="20" height="63" fill="#2a90ff" opacity=".6"/>
<rect x="695" y="290" width="2.5" height="179" fill="#e00000"/>
<ellipse cx="72" cy="335" rx="80" ry="22" fill="#f0f030" opacity=".9" filter="url(#f5)"/>
<g fill="#ee2000" stroke="#ff8000" stroke-width="4" filter="url(#f2)">
<ellipse cx="26" cy="335" rx="14" ry="13"/><ellipse cx="73" cy="333" rx="12" ry="13"/><ellipse cx="118" cy="332" rx="10" ry="12"/>
</g>
<use href="#nm" xlink:href="#nm"/>
<g fill="none" stroke="#ff0000" stroke-linejoin="round" stroke-linecap="round">
<polyline stroke-width="2.8" points="293.4,1.7 729,1.7"/>
<polyline stroke-width="2.8" points="293.4,1.7 295.8,4 298,14 300.7,24 293.4,27.4 283.7,34 274,40.7 264.3,45.7 254.6,52.4 247.3,57.4 242.5,64 242.5,77.4 247.3,90.7 254.6,100.7 261.9,110.7 269,117.4 278.9,124 286,130.7 300.7,135.7 322.5,142.4 341.9,149 356.5,157.4 371,164 390.4,172.4 409.8,182.4 434,194 463,204 487.4,214 506.8,219 526.2,225.7 545.6,234 565,242.4 579.5,254 577,259 565,264 540.7,267.4 506.8,272.4 468,277.4 419.5,284 390.4,289 371,294 351.6,300.7 337,307.4 329.8,315.7 312.8,320.7 288.5,327.4 254.6,334 215.8,342.4 186.7,349 167.3,355.7 150.3,365.7 138.2,375.7 131,389 135.8,395.7 137.2,405.7 150.3,409 157.6,417.4 160,429 167.3,434 169.7,444 167.3,457.4 162.5,469"/>
<g stroke-width="3">
<line x1="277" y1="37.4" x2="291" y2="37.4"/><line x1="247" y1="60.7" x2="276.5" y2="60.7"/>
<line x1="243" y1="74" x2="270" y2="74"/><line x1="247" y1="89" x2="264" y2="89"/>
<line x1="277" y1="122.4" x2="291" y2="122.4"/><line x1="250" y1="56" x2="300" y2="56"/>
<line x1="244" y1="68" x2="262" y2="68"/><line x1="245" y1="82" x2="258" y2="82"/>
</g>
<line stroke-width="5" x1="255" y1="52.4" x2="325" y2="52.4"/>
</g>
<polygon fill="#ff0000" points="246,58 256,50 266,47 262,56 256,62 258,70 252,78 256,86 250,94 255,102 251,104 246,94 242,82 241,70"/>
</svg>
<use href="#axes" xlink:href="#axes" transform="translate(117,1249)"/>
<text x="481.5" y="1777" font-size="17.8" text-anchor="middle" fill="#000">March 2025 NO NB201 00 BHZ</text>
</svg>
</body></html>
